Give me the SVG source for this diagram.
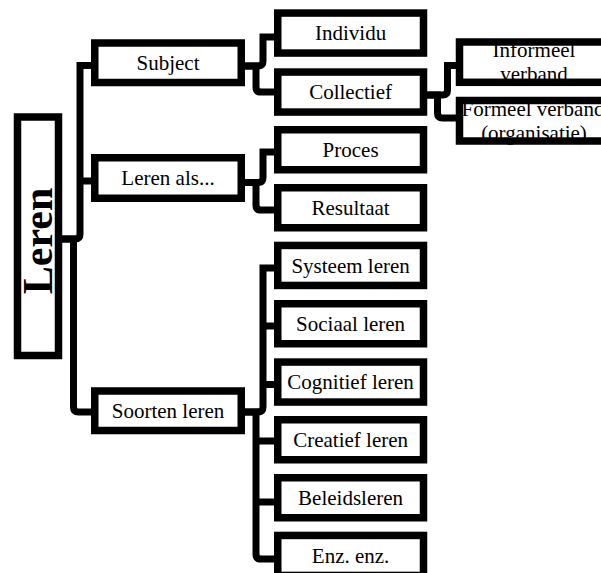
<svg xmlns="http://www.w3.org/2000/svg" width="601" height="573" viewBox="0 0 601 573">
  <style>
    .box { fill: #fff; stroke: #000; stroke-width: 7.5; }
    .bg { fill: #fff; stroke: none; }
    .frame { fill: none; stroke: #000; stroke-width: 7.5; }
    text { font-family: 'Liberation Serif', 'DejaVu Serif', serif; fill: #000; text-anchor: middle; }
    .lbl { font-size: 21px; font-weight: normal; }
    .root { font-size: 42px; font-weight: bold; }
    .wire { fill: none; stroke: #000; stroke-width: 7; stroke-linejoin: miter; }
  </style>
  <rect x="0" y="0" width="601" height="573" fill="#fff"/>

  <!-- elbow connectors -->
  <g id="connectors">
    <!-- Leren -->
    <path class="wire" d="M 60 239 H 75 Q 80 239 80 234 V 65.5 H 95"/>
    <path class="wire" d="M 80 181 H 95"/>
    <path class="wire" d="M 60 239 H 73.5 V 407 Q 73.5 412 78.5 412 H 95"/>
    <!-- Subject -->
    <path class="wire" d="M 243 66 H 258 Q 263 66 263 61 V 37 H 278"/>
    <path class="wire" d="M 243 66 H 256 V 87 Q 256 92 261 92 H 278"/>
    <!-- Leren als -->
    <path class="wire" d="M 243 182.5 H 258 Q 263 182.5 263 177.5 V 152 H 278"/>
    <path class="wire" d="M 243 182.5 H 256 V 205 Q 256 210 261 210 H 278"/>
    <!-- Soorten leren -->
    <path class="wire" d="M 243 412 H 258 Q 263 412 263 407 V 268 H 278"/>
    <path class="wire" d="M 263 326 H 278"/>
    <path class="wire" d="M 263 384.5 H 278"/>
    <path class="wire" d="M 243 412 H 256 V 554 Q 256 559 261 559 H 278"/>
    <path class="wire" d="M 256 441 H 278"/>
    <path class="wire" d="M 256 502 H 278"/>
    <!-- Collectief -->
    <path class="wire" d="M 425 95 H 442.5 Q 447.5 95 447.5 90 V 65.5 H 460"/>
    <path class="wire" d="M 425 95 H 437.5 V 113 Q 437.5 118 442.5 118 H 460"/>
  </g>

  <!-- root -->
  <g id="leren">
    <rect class="bg" x="17.5" y="117" width="41" height="238.5"/>
    <text class="root" transform="translate(51.5,241) rotate(-90)">Leren</text>
    <rect class="frame" x="17.5" y="117" width="41" height="238.5"/>
  </g>

  <!-- first level -->
  <g id="subject">
    <rect class="box" x="94.75" y="43" width="146.5" height="39.5"/>
    <text class="lbl" x="168" y="69.7">Subject</text>
  </g>
  <g id="leren-als">
    <rect class="box" x="94.75" y="157.75" width="146.5" height="40.5"/>
    <text class="lbl" x="168" y="185">Leren als...</text>
  </g>
  <g id="soorten-leren">
    <rect class="box" x="94.75" y="391" width="146.5" height="39.5"/>
    <text class="lbl" x="168" y="417.7">Soorten leren</text>
  </g>

  <!-- second level -->
  <g id="individu">
    <rect class="box" x="277.75" y="13.05" width="145.75" height="40"/>
    <text class="lbl" x="350.6" y="40">Individu</text>
  </g>
  <g id="collectief">
    <rect class="box" x="277.75" y="72.05" width="145.75" height="40"/>
    <text class="lbl" x="350.6" y="99">Collectief</text>
  </g>
  <g id="proces">
    <rect class="box" x="277.75" y="129.75" width="145.75" height="40"/>
    <text class="lbl" x="350.6" y="156.8">Proces</text>
  </g>
  <g id="resultaat">
    <rect class="box" x="277.75" y="187.75" width="145.75" height="40"/>
    <text class="lbl" x="350.6" y="214.8">Resultaat</text>
  </g>
  <g id="systeem-leren">
    <rect class="box" x="277.75" y="245.45" width="145.75" height="40"/>
    <text class="lbl" x="350.6" y="272.5">Systeem leren</text>
  </g>
  <g id="sociaal-leren">
    <rect class="box" x="277.75" y="303.75" width="145.75" height="40"/>
    <text class="lbl" x="350.6" y="330.8">Sociaal leren</text>
  </g>
  <g id="cognitief-leren">
    <rect class="box" x="277.75" y="362.05" width="145.75" height="40"/>
    <text class="lbl" x="350.6" y="389">Cognitief leren</text>
  </g>
  <g id="creatief-leren">
    <rect class="box" x="277.75" y="419.75" width="145.75" height="40"/>
    <text class="lbl" x="350.6" y="446.8">Creatief leren</text>
  </g>
  <g id="beleidsleren">
    <rect class="box" x="277.75" y="477.75" width="145.75" height="40"/>
    <text class="lbl" x="350.6" y="504.8">Beleidsleren</text>
  </g>
  <g id="enz">
    <rect class="box" x="277.75" y="535.45" width="145.75" height="40"/>
    <text class="lbl" x="350.6" y="562.5">Enz. enz.</text>
  </g>

  <!-- third level (labels run under the frame) -->
  <g id="informeel-verband">
    <rect class="bg" x="459.5" y="42" width="150" height="40.3"/>
    <text class="lbl" x="534" y="56.5">Informeel</text>
    <text class="lbl" x="534" y="80.5">verband</text>
    <rect class="frame" x="459.5" y="42" width="150" height="40.3"/>
  </g>
  <g id="formeel-verband">
    <rect class="bg" x="459.5" y="100.5" width="150" height="40.5"/>
    <text class="lbl" x="533" y="116">Formeel verband</text>
    <text class="lbl" x="534" y="140">(organisatie)</text>
    <rect class="frame" x="459.5" y="100.5" width="150" height="40.5"/>
  </g>
</svg>
